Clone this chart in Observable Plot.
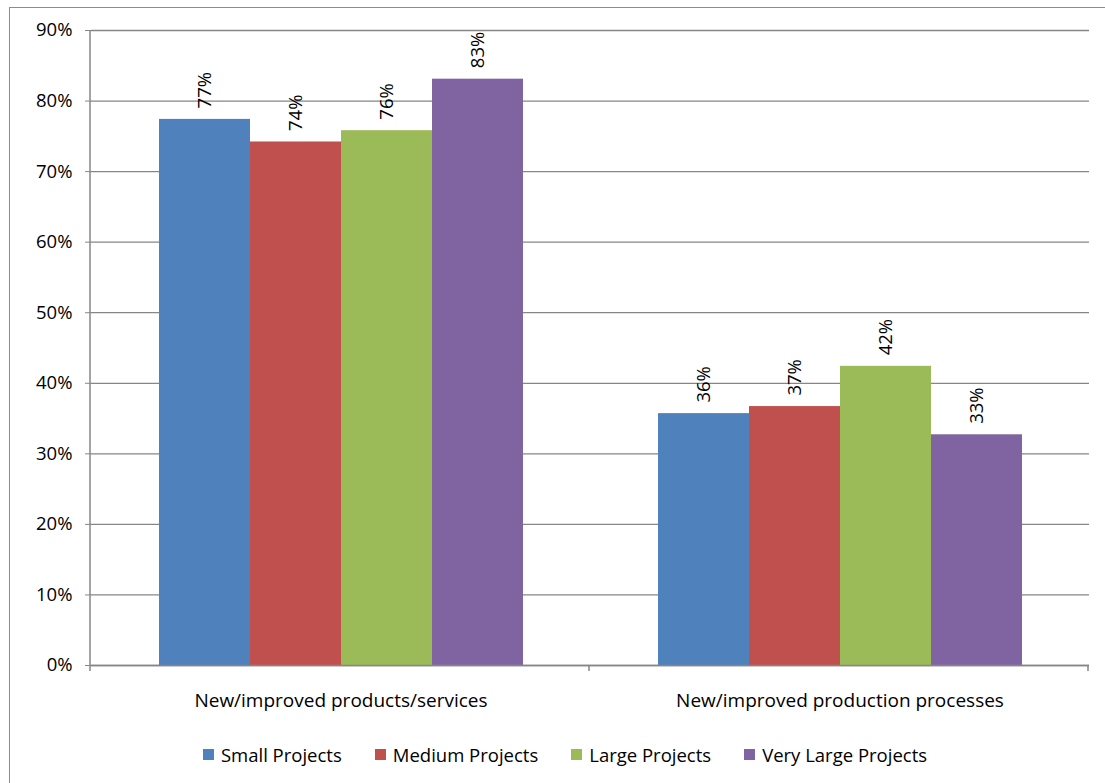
<!DOCTYPE html>
<html>
<head>
<meta charset="utf-8">
<script src="https://cdn.jsdelivr.net/npm/d3@7"></script>
<script src="https://cdn.jsdelivr.net/npm/@observablehq/plot@0.6"></script>
<style>
  html, body { margin: 0; padding: 0; background: #fff; overflow: hidden; }
  body { width: 1105px; height: 783px; position: relative; font-family: "Open Sans", sans-serif; }
  #border { position: absolute; left: 9px; top: 7px; width: 1200px; height: 900px; border: 1px solid #8c8c8c; box-sizing: border-box; }
  #chart { position: absolute; left: 0; top: 0; }
  #legend { position: absolute; top: 742px; left: 0; width: 1130px; display: flex; justify-content: center; gap: 33px; font-size: 18.5px; color: #000; }
  #legend .item { display: flex; align-items: center; white-space: nowrap; }
  #legend .sw { width: 11px; height: 11px; margin-right: 7px; }
</style>
</head>
<body>
<div id="border"></div>
<div id="chart"></div>
<div id="legend"></div>
<script>
// Share of projects by size class reporting each kind of innovation
const categories = ["New/improved products/services", "New/improved production processes"];
const series = ["Small Projects", "Medium Projects", "Large Projects", "Very Large Projects"];
const productsValues = [0.774, 0.742, 0.758, 0.831];
const processesValues = [0.357, 0.367, 0.424, 0.327];
const seriesColors = ["#4F81BD", "#C0504D", "#9BBB59", "#8064A2"];
const yTicks = [0, 0.1, 0.2, 0.3, 0.4, 0.5, 0.6, 0.7, 0.8, 0.9];

const pct = d3.format(".0%");
const rows = [];
[productsValues, processesValues].forEach((vals, ci) => {
  vals.forEach((v, si) => rows.push({category: categories[ci], series: series[si], value: v}));
});

const axisColor = "#868686";
const font = "'Open Sans', sans-serif";
const fs = 18.5;

const plot = Plot.plot({
  width: 1105,
  height: 720,
  marginLeft: 90,
  marginRight: 16,
  marginTop: 30,
  marginBottom: 55,
  style: {fontFamily: font, fontSize: fs + "px", color: "#000", background: "transparent"},
  fx: {domain: categories, padding: 0, label: null, axis: null},
  x: {domain: series, paddingInner: 0, paddingOuter: 0.73, axis: null},
  y: {domain: [0, 0.9], axis: null},
  color: {domain: series, range: seriesColors},
  marks: [
    Plot.gridY(yTicks, {stroke: axisColor, strokeOpacity: 1, strokeWidth: 1.3}),
    Plot.axisY(yTicks, {tickFormat: pct, tickSize: 6, tickPadding: 13, stroke: axisColor, label: null, fontSize: fs}),
    Plot.axisFx({anchor: "bottom", tickSize: 0, tickPadding: 28, label: null, fontSize: 19}),
    Plot.barY(rows, {fx: "category", x: "series", y: "value", fill: "series"}),
    Plot.text(rows, {
      fx: "category", x: "series", y: "value",
      text: d => pct(d.value),
      rotate: -90, textAnchor: "start", dy: -11,
      fontSize: fs, fill: "#000"
    }),
    Plot.ruleY([0], {stroke: axisColor, strokeWidth: 1.5})
  ]
});

document.getElementById("chart").appendChild(plot);

// Vertical value axis line and category boundary ticks
const svg = d3.select(plot);
const ys = plot.scale("y");
const fxs = plot.scale("fx");
const y0 = ys.apply(0), y1 = ys.apply(0.9);
const left = 90;
svg.append("line")
  .attr("x1", left).attr("x2", left).attr("y1", y1).attr("y2", y0)
  .attr("stroke", axisColor).attr("stroke-width", 1.5);
const bounds = [];
categories.forEach(c => bounds.push(left + fxs.apply(c) - fxs.apply(categories[0])));
bounds.push(left + fxs.apply(categories[categories.length - 1]) - fxs.apply(categories[0]) + fxs.bandwidth);
bounds.forEach(bx => {
  svg.append("line")
    .attr("x1", bx).attr("x2", bx).attr("y1", y0).attr("y2", y0 + 6)
    .attr("stroke", axisColor).attr("stroke-width", 1.5);
});

// Legend
const legend = d3.select("#legend");
series.forEach((s, i) => {
  const item = legend.append("div").attr("class", "item");
  item.append("div").attr("class", "sw").style("background", seriesColors[i]);
  item.append("span").text(s);
});
</script>
</body>
</html>
